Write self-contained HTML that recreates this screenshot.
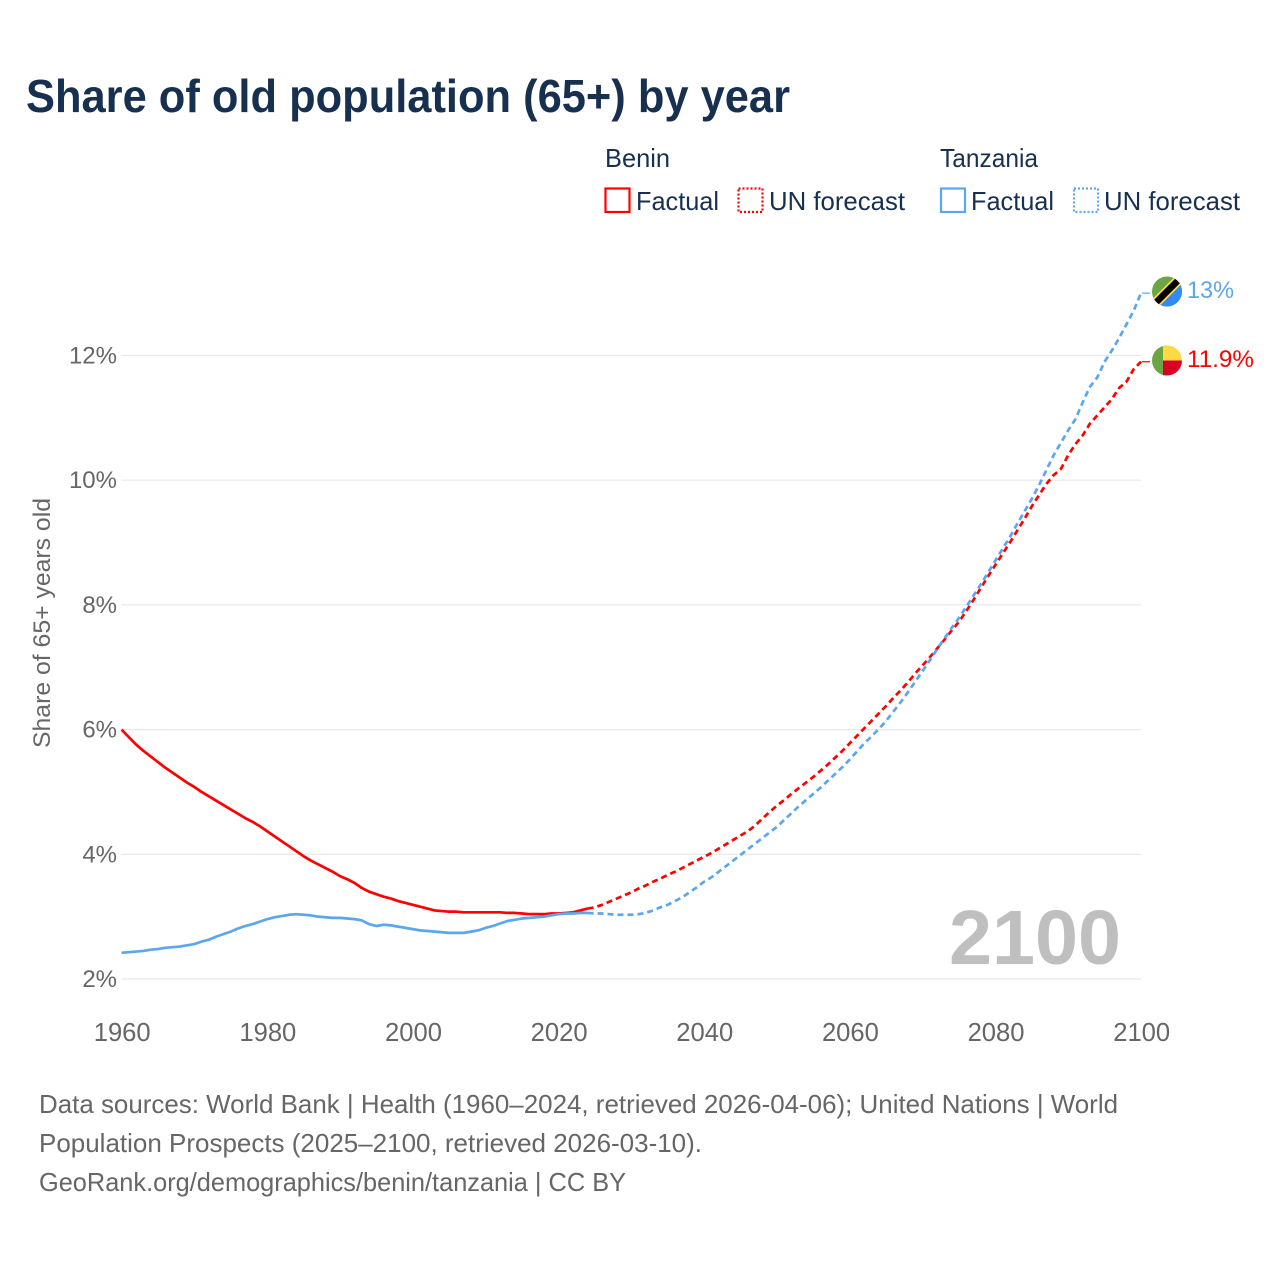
<!DOCTYPE html>
<html lang="en">
<head>
<meta charset="utf-8">
<title>Share of old population (65+) by year</title>
<style>
html,body{margin:0;padding:0;background:#fff}
svg{display:block}
text{font-family:"Liberation Sans",Arial,sans-serif}
</style>
</head>
<body>
<svg id="chart" xmlns="http://www.w3.org/2000/svg" width="1280" height="1280" viewBox="0 0 1280 1280">
  <rect x="0" y="0" width="1280" height="1280" fill="#ffffff"/>
  <text x="26" y="112" font-size="46" font-weight="700" fill="#18304f" textLength="764" lengthAdjust="spacingAndGlyphs">Share of old population (65+) by year</text>

  <g font-size="26" fill="#18304f">
    <text x="605" y="167" textLength="65" lengthAdjust="spacingAndGlyphs">Benin</text>
    <rect x="605.5" y="188.5" width="24" height="23.5" fill="none" stroke="#ff0000" stroke-width="2.2"/>
    <text x="636" y="210" textLength="83" lengthAdjust="spacingAndGlyphs">Factual</text>
    <rect x="738.5" y="188.5" width="24" height="23.5" fill="none" stroke="#ff0000" stroke-width="2.2" stroke-dasharray="2,2"/>
    <text x="769" y="210" textLength="136" lengthAdjust="spacingAndGlyphs">UN forecast</text>
    <text x="940" y="167" textLength="98" lengthAdjust="spacingAndGlyphs">Tanzania</text>
    <rect x="941" y="188.5" width="24" height="23.5" fill="none" stroke="#5ca6ee" stroke-width="2.2"/>
    <text x="971" y="210" textLength="83" lengthAdjust="spacingAndGlyphs">Factual</text>
    <rect x="1074" y="188.5" width="24" height="23.5" fill="none" stroke="#5ca6ee" stroke-width="2.2" stroke-dasharray="2,2"/>
    <text x="1104" y="210" textLength="136" lengthAdjust="spacingAndGlyphs">UN forecast</text>
  </g>

  <text transform="translate(50,748) rotate(-90)" font-size="24" fill="#666666" textLength="250" lengthAdjust="spacingAndGlyphs">Share of 65+ years old</text>

  <g id="grid"></g>
  <g id="yticks"></g>
  <g id="xticks"></g>

  <text x="1121" y="964" font-size="77" font-weight="700" fill="#bfbfbf" text-anchor="end" textLength="172" lengthAdjust="spacingAndGlyphs">2100</text>

  <g id="series"></g>

  <defs>
    <clipPath id="clip-tz"><circle cx="1167" cy="291.5" r="15"/></clipPath>
    <clipPath id="clip-bj"><circle cx="1167" cy="360.5" r="15"/></clipPath>
  </defs>
  <g clip-path="url(#clip-tz)">
    <rect x="1150" y="275" width="34" height="34" fill="#6da544"/>
    <polygon points="1184,275 1184,309 1150,309" fill="#338af3"/>
    <line x1="1148" y1="310.5" x2="1186" y2="272.5" stroke="#ffda44" stroke-width="10"/>
    <line x1="1148" y1="310.5" x2="1186" y2="272.5" stroke="#000000" stroke-width="6.5"/>
  </g>
  <g clip-path="url(#clip-bj)">
    <rect x="1150" y="343" width="17" height="35" fill="#6da544"/>
    <rect x="1163" y="343" width="21" height="17.5" fill="#ffda44"/>
    <rect x="1163" y="360.5" width="21" height="17.5" fill="#d80027"/>
  </g>
  <text x="1187" y="298" font-size="24" fill="#5ca6ee" textLength="47" lengthAdjust="spacingAndGlyphs">13%</text>
  <text x="1187" y="367" font-size="24" fill="#ff0000" textLength="67" lengthAdjust="spacingAndGlyphs">11.9%</text>

  <g font-size="26" fill="#666666">
    <text x="39" y="1113" textLength="1079" lengthAdjust="spacingAndGlyphs">Data sources: World Bank | Health (1960–2024, retrieved 2026-04-06); United Nations | World</text>
    <text x="39" y="1152" textLength="663" lengthAdjust="spacingAndGlyphs">Population Prospects (2025–2100, retrieved 2026-03-10).</text>
    <text x="39" y="1191" textLength="587" lengthAdjust="spacingAndGlyphs">GeoRank.org/demographics/benin/tanzania | CC BY</text>
  </g>
</svg>
<script>
const xTickYears = [1960, 1980, 2000, 2020, 2040, 2060, 2080, 2100];
const yTickValues = [2, 4, 6, 8, 10, 12];
const factualStartYear = 1960;
const forecastStartYear = 2024;
const beninFactual = [
  6.00,5.88,5.76,5.66,5.57,5.48,5.39,5.31,5.23,5.15,
  5.08,5.00,4.93,4.86,4.79,4.72,4.65,4.58,4.52,4.45,
  4.37,4.29,4.21,4.13,4.05,3.97,3.90,3.84,3.78,3.72,
  3.65,3.60,3.54,3.46,3.40,3.36,3.32,3.29,3.25,3.22,
  3.19,3.16,3.13,3.10,3.09,3.08,3.08,3.07,3.07,3.07,
  3.07,3.07,3.07,3.06,3.06,3.05,3.04,3.04,3.04,3.05,
  3.05,3.06,3.07,3.10,3.13
];
const beninForecast = [
  3.13,3.15,3.19,3.24,3.29,3.34,3.39,3.45,3.50,3.56,3.61,3.67,3.72,3.78,3.84,3.90,
  3.96,4.02,4.09,4.16,4.23,4.30,4.37,4.46,4.57,4.68,
  4.78,4.87,4.97,5.06,5.15,5.24,5.34,5.44,5.55,5.66,
  5.78,5.90,6.02,6.14,6.26,6.38,6.51,6.63,6.76,6.90,
  7.03,7.16,7.30,7.44,7.59,7.73,7.90,8.08,8.27,8.46,
  8.64,8.82,9.00,9.19,9.38,9.58,9.76,9.94,10.08,10.18,
  10.40,10.58,10.72,10.91,11.04,11.17,11.30,11.48,11.58,11.78,
  11.90
];
const tanzaniaFactual = [
  2.42,2.43,2.44,2.45,2.47,2.48,2.50,2.51,2.52,2.54,
  2.56,2.60,2.63,2.68,2.72,2.76,2.81,2.85,2.88,2.92,
  2.96,2.99,3.01,3.03,3.04,3.03,3.02,3.00,2.99,2.98,
  2.98,2.97,2.96,2.94,2.88,2.85,2.87,2.86,2.84,2.82,
  2.80,2.78,2.77,2.76,2.75,2.74,2.74,2.74,2.76,2.78,
  2.82,2.85,2.89,2.93,2.95,2.97,2.98,2.99,3.00,3.02,
  3.04,3.05,3.05,3.06,3.06
];
const tanzaniaForecast = [
  3.06,3.05,3.05,3.04,3.03,3.03,3.03,3.04,3.06,3.10,3.15,3.19,3.25,3.31,3.39,3.47,
  3.56,3.63,3.72,3.81,3.90,3.99,4.08,4.17,4.26,4.35,
  4.44,4.55,4.66,4.77,4.87,4.97,5.07,5.18,5.29,5.40,
  5.52,5.65,5.78,5.89,6.01,6.14,6.29,6.44,6.60,6.77,
  6.94,7.11,7.29,7.46,7.63,7.79,7.97,8.15,8.33,8.52,
  8.71,8.90,9.09,9.30,9.50,9.70,9.92,10.16,10.40,10.60,
  10.80,10.98,11.25,11.50,11.65,11.90,12.08,12.28,12.50,12.72,
  13.00
];

const NS = 'http://www.w3.org/2000/svg';
function xScale(year) { return 121.5 + (year - 1960) * (1141 - 121.5) / 140; }
function yScale(v) { return 979 - (v - 2) * (979 - 355.5) / 10; }

const grid = document.getElementById('grid');
const yticks = document.getElementById('yticks');
const xticks = document.getElementById('xticks');
const seriesLayer = document.getElementById('series');

yTickValues.forEach(function (v) {
  const line = document.createElementNS(NS, 'line');
  
  
  line.setAttribute('x1', xScale(1960));
  line.setAttribute('x2', xScale(2100));
  line.setAttribute('y1', yScale(v));
  line.setAttribute('y2', yScale(v));
  line.setAttribute('stroke', '#e8e8e8');
  line.setAttribute('stroke-width', '1.2');
  grid.appendChild(line);

  const label = document.createElementNS(NS, 'text');
  
  
  label.setAttribute('x', 117);
  label.setAttribute('y', yScale(v) + 8);
  label.setAttribute('text-anchor', 'end');
  label.setAttribute('font-size', '24');
  label.setAttribute('fill', '#666666');
  label.textContent = v + '%';
  yticks.appendChild(label);
});

xTickYears.forEach(function (year) {
  const label = document.createElementNS(NS, 'text');
  
  
  label.setAttribute('x', xScale(year) + 0.7);
  label.setAttribute('y', 1041);
  label.setAttribute('text-anchor', 'middle');
  label.setAttribute('font-size', '25.6');
  label.setAttribute('fill', '#666666');
  label.textContent = String(year);
  xticks.appendChild(label);
});

function seriesPoints(values, startYear) {
  return values.map(function (v, i) {
    return xScale(startYear + i).toFixed(2) + ',' + yScale(v).toFixed(2);
  }).join(' ');
}

function drawSeries(name, values, startYear, color, dashed) {
  const line = document.createElementNS(NS, 'polyline');
  
  
  line.setAttribute('points', seriesPoints(values, startYear));
  line.setAttribute('fill', 'none');
  line.setAttribute('stroke', color);
  line.setAttribute('stroke-width', '2.7');
  line.setAttribute('stroke-linejoin', 'round');
  if (dashed) line.setAttribute('stroke-dasharray', '6,4');
  seriesLayer.appendChild(line);
}

function drawConnector(name, value, color) {
  const line = document.createElementNS(NS, 'line');
  
  
  line.setAttribute('x1', xScale(2100) + 1);
  line.setAttribute('x2', 1150);
  line.setAttribute('y1', yScale(value));
  line.setAttribute('y2', yScale(value));
  line.setAttribute('stroke', color);
  line.setAttribute('stroke-width', '1.2');
  seriesLayer.appendChild(line);
}

drawSeries('benin-forecast-line', beninForecast, forecastStartYear, '#ff0000', true);
drawSeries('tanzania-forecast-line', tanzaniaForecast, forecastStartYear, '#5ca6ee', true);
drawSeries('benin-factual-line', beninFactual, factualStartYear, '#ff0000', false);
drawSeries('tanzania-factual-line', tanzaniaFactual, factualStartYear, '#5ca6ee', false);
drawConnector('benin-end-connector', beninForecast[beninForecast.length - 1], '#ff0000');
drawConnector('tanzania-end-connector', tanzaniaForecast[tanzaniaForecast.length - 1], '#5ca6ee');
</script>
</body>
</html>
